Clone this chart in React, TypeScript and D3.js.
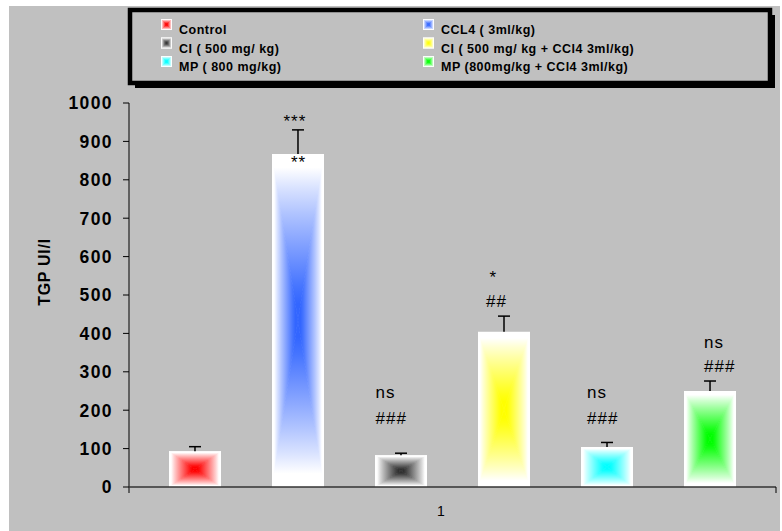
import React from "react";
import * as d3 from "d3";

const series = [
  "Control",
  "CCL4 ( 3ml/kg)",
  "CI ( 500 mg/ kg)",
  "CI ( 500 mg/ kg + CCl4 3ml/kg)",
  "MP ( 800 mg/kg)",
  "MP (800mg/kg + CCl4 3ml/kg)",
];
const values = [93, 867, 83, 404, 104, 250];
const errors = [12, 63, 5, 41, 12, 26];
const colors = ["#ff0000", "#3366ff", "#303030", "#ffff00", "#00ffff", "#00ff00"];
const yTicks = [0, 100, 200, 300, 400, 500, 600, 700, 800, 900, 1000];
const category = "1";
const yTitle = "TGP UI/l";

// annotations: series index, text, value (baseline in data units)
const annSeries = [1, 1, 3, 3, 2, 2, 4, 4, 5, 5];
const annText = ["***", "**", "*", "##", "ns", "###", "ns", "###", "ns", "###"];
const annValue = [937, 831, 531, 469, 232, 164, 232, 164, 362, 300];
const annDx = [-14.5, -7, -14.5, -18, -25.5, -25.5, -20, -20, -6, -6];

const W = 782;
const H = 531;
const FONT = "Arial, 'Liberation Sans', sans-serif";

function gradStops(color: string) {
  const interp = d3.interpolateRgb("#ffffff", color);
  const offs = [0, 0.08, 0.2, 0.35, 0.5, 0.65, 0.8, 0.9, 1];
  return offs.map((o) => {
    const a = Math.max(0, Math.min(1, (o - 0.08) / 0.8));
    return { o, c: interp(Math.pow(a, 0.9)) };
  });
}

let clipCounter = 0;

function RectGrad({ x, y, w, h, i, id }: { x: number; y: number; w: number; h: number; i: number; id: string }) {
  const cx = x + w / 2;
  const cy = y + h / 2;
  const x1 = x + w;
  const y1 = y + h;
  const cid = `clip-${id}`;
  return (
    <g>
      <clipPath id={cid}>
        <rect x={x} y={y} width={w} height={h} />
      </clipPath>
      <g clipPath={`url(#${cid})`}>
        <rect x={x} y={y} width={w} height={h} fill="#ffffff" />
        <polygon points={`${x},${y} ${x1},${y} ${cx},${cy}`} fill={`url(#g${i}t)`} stroke={`url(#g${i}t)`} strokeWidth={1} />
        <polygon points={`${x},${y1} ${x1},${y1} ${cx},${cy}`} fill={`url(#g${i}b)`} stroke={`url(#g${i}b)`} strokeWidth={1} />
        <polygon points={`${x},${y} ${x},${y1} ${cx},${cy}`} fill={`url(#g${i}l)`} />
        <polygon points={`${x1},${y} ${x1},${y1} ${cx},${cy}`} fill={`url(#g${i}r)`} />
      </g>
    </g>
  );
}

export default function App() {
  const y = d3.scaleLinear().domain([0, 1000]).range([487, 103]);
  const x = d3
    .scaleBand<string>()
    .domain(series)
    .range([129, 776])
    .paddingInner(0.495)
    .paddingOuter(0.388);
  const bw = x.bandwidth();

  const dirs: Record<string, [number, number, number, number]> = {
    t: [0, 0, 0, 1],
    b: [0, 1, 0, 0],
    l: [0, 0, 1, 0],
    r: [1, 0, 0, 0],
  };

  const legCols = [161, 423];
  const legRows = [19, 37.5, 56];

  return (
    <svg
      width={W}
      height={H}
      style={{ position: "absolute", left: 0, top: 0, display: "block" }}
      fontFamily={FONT}
    >
      <defs>
        {colors.map((c, i) =>
          Object.entries(dirs).map(([k, [a1, b1, a2, b2]]) => (
            <linearGradient key={`${i}${k}`} id={`g${i}${k}`} x1={a1} y1={b1} x2={a2} y2={b2}>
              {gradStops(c).map((s, j) => (
                <stop key={j} offset={s.o} stopColor={s.c} />
              ))}
            </linearGradient>
          ))
        )}
      </defs>
      <rect x={0} y={0} width={W} height={H} fill="#ffffff" />
      <rect x={9} y={6} width={771} height={H - 6} fill="#c0c0c0" />

      {/* legend */}
      <rect x={135} y={15} width={640} height={73} fill="#000" />
      <rect x={130} y={10} width={640} height={73} fill="#c0c0c0" stroke="#000" strokeWidth={4.5} />
      {series.map((s, i) => {
        const col = i % 2;
        const row = Math.floor(i / 2);
        const mx = legCols[col];
        const my = legRows[row];
        return (
          <g key={s}>
            <RectGrad x={mx} y={my} w={11} h={11} i={i} id={`leg${i}`} />
            <text
              x={mx + 18}
              y={my + 15}
              fontSize={12.5}
              fontWeight="bold"
              letterSpacing={0.5}
              fill="#000"
            >
              {s}
            </text>
          </g>
        );
      })}

      {/* bars */}
      {values.map((v, i) => {
        const bx = x(series[i])!;
        return <RectGrad key={i} x={bx} y={y(v)} w={bw} h={y(0) - y(v)} i={i} id={`bar${i}`} />;
      })}

      {/* error bars */}
      {values.map((v, i) => {
        const cx = x(series[i])! + bw / 2;
        const top = y(v + errors[i]);
        return (
          <g key={`e${i}`} stroke="#000" strokeWidth={1.5}>
            <line x1={cx} x2={cx} y1={y(v)} y2={top} />
            <line x1={cx - 6} x2={cx + 6} y1={top} y2={top} />
          </g>
        );
      })}

      {/* annotations */}
      {annText.map((t, k) => {
        const i = annSeries[k];
        const cx = x(series[i])! + bw / 2;
        return (
          <text
            key={`a${k}`}
            x={cx + annDx[k]}
            y={y(annValue[k])}
            fontSize={17}
            letterSpacing={1}
            fill="#000"
          >
            {t}
          </text>
        );
      })}

      {/* y axis */}
      <line x1={129} x2={129} y1={y(1000)} y2={493} stroke="#000" strokeWidth={1} />
      {yTicks.map((t) => (
        <g key={`t${t}`}>
          <line x1={123} x2={129} y1={y(t)} y2={y(t)} stroke="#000" strokeWidth={1} />
          <text
            x={113}
            y={y(t)}
            dy="0.36em"
            textAnchor="end"
            fontSize={17.5}
            fontWeight="bold"
            letterSpacing={1.4}
            fill="#000"
          >
            {t}
          </text>
        </g>
      ))}
      <text
        transform={`translate(50, ${272}) rotate(-90)`}
        textAnchor="middle"
        fontSize={16}
        fontWeight="bold"
        letterSpacing={0.7}
        fill="#000"
      >
        {yTitle}
      </text>

      {/* x axis */}
      <line x1={129} x2={776} y1={y(0)} y2={y(0)} stroke="#333" strokeWidth={1.5} />
      <line x1={776} x2={776} y1={y(0)} y2={493} stroke="#000" strokeWidth={1} />
      <text x={441} y={516} textAnchor="middle" fontSize={14} fill="#000">
        {category}
      </text>
    </svg>
  );
}
